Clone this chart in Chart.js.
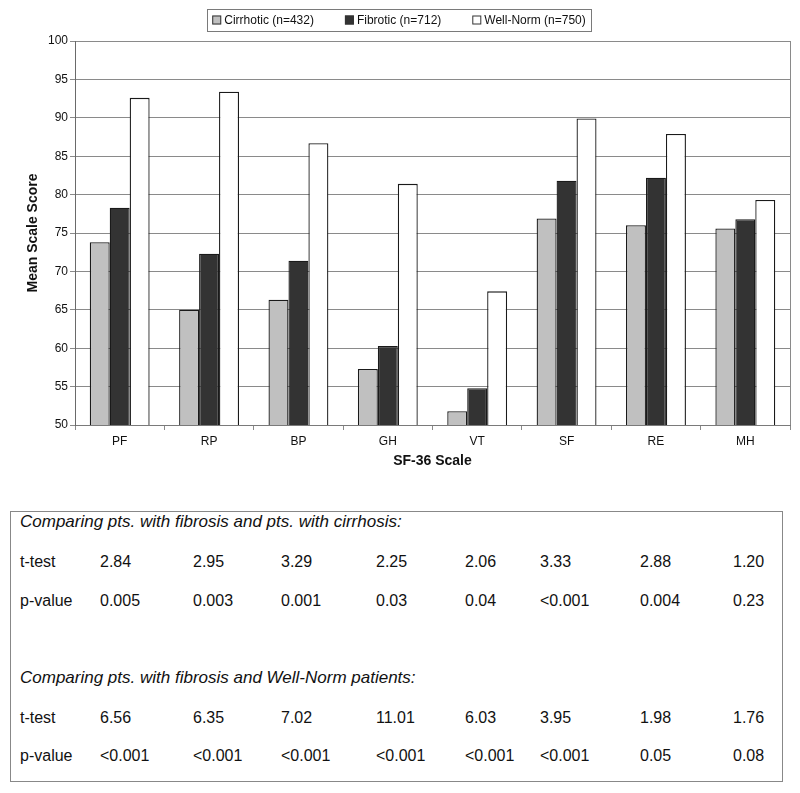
<!DOCTYPE html>
<html>
<head>
<meta charset="utf-8">
<title>SF-36 Scale scores</title>
<script src="https://cdn.jsdelivr.net/npm/chart.js@4.4.0/dist/chart.umd.min.js"></script>
<style>
  html, body { margin: 0; padding: 0; background: #fff; }
  body { width: 800px; height: 793px; position: relative; overflow: hidden;
         font-family: 'Liberation Sans', Arial, sans-serif; color: #111; }
  #chartWrap { position: absolute; left: 0; top: 0; width: 800px; height: 490px; }
  #statsBox { position: absolute; left: 10px; top: 511px; width: 773px; height: 271px;
              border: 1.5px solid #888; box-sizing: border-box; }
  .row { position: absolute; left: 0; width: 800px; height: 20px; font-size: 16px;
         line-height: 20px; white-space: nowrap; }
  .row span { position: absolute; top: 0; }
  .head { font-style: italic; font-size: 17px; }
</style>
</head>
<body>
<div id="chartWrap"><canvas id="sfChart" width="800" height="490"></canvas></div>
<div id="statsBox"></div>
<div id="statsRows"></div>

<script>
// ---------- data ----------
const categories = ['PF', 'RP', 'BP', 'GH', 'VT', 'SF', 'RE', 'MH'];
const seriesNames = ['Cirrhotic (n=432)', 'Fibrotic (n=712)', 'Well-Norm (n=750)'];
const cirrhotic = [73.8, 65.0, 66.3, 57.3, 51.8, 76.9, 76.0, 75.6];
const fibrotic  = [78.3, 72.3, 71.4, 60.3, 54.8, 81.8, 82.2, 76.8];
const wellNorm  = [92.6, 93.4, 86.7, 81.4, 67.4, 89.9, 87.9, 79.3];
const yMin = 50, yMax = 100, yStep = 5;

const headCirr = 'Comparing pts. with fibrosis and pts. with cirrhosis:';
const headNorm = 'Comparing pts. with fibrosis and Well-Norm patients:';
const tCirr = ['2.84', '2.95', '3.29', '2.25', '2.06', '3.33', '2.88', '1.20'];
const pCirr = ['0.005', '0.003', '0.001', '0.03', '0.04', '<0.001', '0.004', '0.23'];
const tNorm = ['6.56', '6.35', '7.02', '11.01', '6.03', '3.95', '1.98', '1.76'];
const pNorm = ['<0.001', '<0.001', '<0.001', '<0.001', '<0.001', '<0.001', '0.05', '0.08'];

// ---------- chart ----------
const FONT = "'Liberation Sans', Arial, sans-serif";
const fills = ['#c0c0c0', '#333333', '#ffffff'];

// boxed legend like the original Excel one
const boxLegend = {
    id: 'boxLegend',
    afterDraw(chart) {
        const ctx = chart.ctx;
        const box = { x: 207, y: 9, w: 384, h: 22 };
        ctx.save();
        ctx.font = '12px ' + FONT;
        const sq = 9, gapTxt = 3, gapItem = 31;
        const items = chart.data.datasets.map(ds => ({
            text: ds.label, fill: ds.backgroundColor, w: sq + gapTxt + ctx.measureText(ds.label).width
        }));
        const total = items.reduce((s, it) => s + it.w, 0) + gapItem * (items.length - 1);
        let x = box.x + (box.w - total) / 2;
        const cy = box.y + box.h / 2;

        ctx.strokeStyle = '#7a7a7a';
        ctx.lineWidth = 1;
        ctx.strokeRect(box.x + 0.5, box.y + 0.5, box.w, box.h);

        items.forEach(it => {
            ctx.fillStyle = it.fill;
            ctx.fillRect(x, cy - sq / 2, sq, sq);
            ctx.strokeStyle = '#333';
            ctx.strokeRect(x + 0.5, cy - sq / 2 + 0.5, sq - 1, sq - 1);
            ctx.fillStyle = '#111';
            ctx.textBaseline = 'middle';
            ctx.fillText(it.text, x + sq + gapTxt, cy + 1);
            x += it.w + gapItem;
        });
        ctx.restore();
    }
};

// right-hand frame of the plot area
const plotFrame = {
    id: 'plotFrame',
    afterDatasetsDraw(chart) {
        const { ctx, chartArea: a } = chart;
        ctx.save();
        ctx.strokeStyle = '#8a8a8a';
        ctx.lineWidth = 1;
        ctx.beginPath();
        ctx.moveTo(Math.round(a.right) + 0.5, a.top);
        ctx.lineTo(Math.round(a.right) + 0.5, a.bottom);
        ctx.stroke();
        ctx.restore();
    }
};

new Chart(document.getElementById('sfChart'), {
    type: 'bar',
    data: {
        labels: categories,
        datasets: [cirrhotic, fibrotic, wellNorm].map((d, i) => ({
            label: seriesNames[i],
            data: d,
            backgroundColor: fills[i],
            borderColor: '#1a1a1a',
            borderWidth: 1.3,
            borderSkipped: 'bottom',
            categoryPercentage: 0.67,
            barPercentage: 1.0
        }))
    },
    options: {
        responsive: false,
        animation: false,
        layout: { padding: { top: 41, right: 10, bottom: 20, left: 0 } },
        plugins: { legend: { display: false }, tooltip: { enabled: false } },
        scales: {
            x: {
                grid: { offset: true, drawOnChartArea: false, color: '#8a8a8a', tickLength: 5 },
                border: { color: '#7a7a7a' },
                ticks: { color: '#111', font: { family: FONT, size: 12 }, padding: 4 },
                title: { display: true, text: 'SF-36 Scale', color: '#111',
                         font: { family: FONT, size: 14, weight: 'bold' }, padding: { top: 0, bottom: 0 } },
                afterFit(s) { s.height = 45; }
            },
            y: {
                min: yMin, max: yMax,
                ticks: { stepSize: yStep, color: '#111', font: { family: FONT, size: 12 }, padding: 2 },
                grid: { color: '#8a8a8a', tickLength: 5 },
                border: { color: '#6a6a6a' },
                title: { display: true, text: 'Mean Scale Score', color: '#111',
                         font: { family: FONT, size: 14, weight: 'bold' }, padding: { top: 25, bottom: 0 } },
                afterFit(s) { s.width = 75; }
            }
        }
    },
    plugins: [boxLegend, plotFrame]
});

// ---------- stats table ----------
const colX = [100, 193, 281, 376, 465, 540, 640, 733];
const rowLayout = [
    { top: 512, head: headCirr },
    { top: 552, label: 't-test', vals: tCirr },
    { top: 591, label: 'p-value', vals: pCirr },
    { top: 668, head: headNorm },
    { top: 708, label: 't-test', vals: tNorm },
    { top: 746, label: 'p-value', vals: pNorm }
];
const host = document.getElementById('statsRows');
rowLayout.forEach(r => {
    const div = document.createElement('div');
    div.className = 'row' + (r.head ? ' head' : '');
    div.style.top = r.top + 'px';
    let html = `<span style="left:20px">${r.head || r.label}</span>`;
    if (r.vals) {
        r.vals.forEach((v, i) => {
            html += `<span style="left:${colX[i]}px">${v.replace('<', '&lt;')}</span>`;
        });
    }
    div.innerHTML = html;
    host.appendChild(div);
});
</script>
</body>
</html>
